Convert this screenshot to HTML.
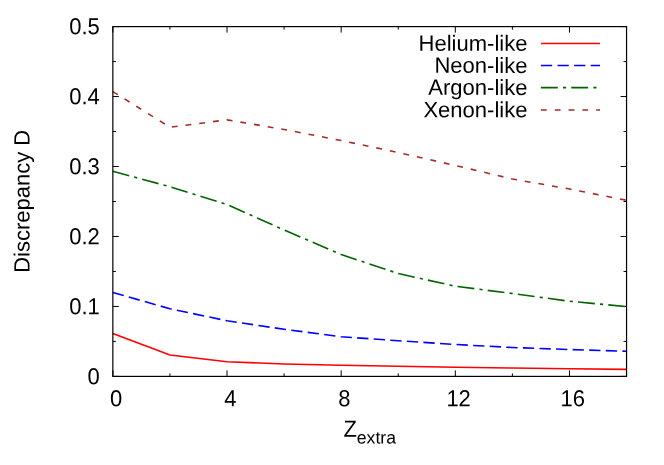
<!DOCTYPE html>
<html><head><meta charset="utf-8"><title>Discrepancy D vs Z extra</title>
<style>
html,body{margin:0;padding:0;background:#fff;}
body{width:664px;height:465px;overflow:hidden;}
svg{display:block;will-change:transform;}
text{font-family:"Liberation Sans",sans-serif;font-size:22px;fill:#000;}
</style></head><body>
<svg width="664" height="465" viewBox="0 0 664 465">
<rect x="0" y="0" width="664" height="465" fill="#ffffff"/>
<g stroke="#000" stroke-width="1.0" fill="none">
<path d="M112.85 376.4 V370.40 M112.85 26.6 V32.60"/>
<path d="M169.93 376.4 V373.40 M169.93 26.6 V29.60"/>
<path d="M227.01 376.4 V370.40 M227.01 26.6 V32.60"/>
<path d="M284.08 376.4 V373.40 M284.08 26.6 V29.60"/>
<path d="M341.16 376.4 V370.40 M341.16 26.6 V32.60"/>
<path d="M398.24 376.4 V373.40 M398.24 26.6 V29.60"/>
<path d="M455.32 376.4 V370.40 M455.32 26.6 V32.60"/>
<path d="M512.39 376.4 V373.40 M512.39 26.6 V29.60"/>
<path d="M569.47 376.4 V370.40 M569.47 26.6 V32.60"/>
<path d="M626.55 376.4 V373.40 M626.55 26.6 V29.60"/>
<path d="M112.85 376.40 H118.85 M626.55 376.40 H620.55"/>
<path d="M112.85 341.42 H115.85 M626.55 341.42 H623.55"/>
<path d="M112.85 306.44 H118.85 M626.55 306.44 H620.55"/>
<path d="M112.85 271.46 H115.85 M626.55 271.46 H623.55"/>
<path d="M112.85 236.48 H118.85 M626.55 236.48 H620.55"/>
<path d="M112.85 201.50 H115.85 M626.55 201.50 H623.55"/>
<path d="M112.85 166.52 H118.85 M626.55 166.52 H620.55"/>
<path d="M112.85 131.54 H115.85 M626.55 131.54 H623.55"/>
<path d="M112.85 96.56 H118.85 M626.55 96.56 H620.55"/>
<path d="M112.85 61.58 H115.85 M626.55 61.58 H623.55"/>
<path d="M112.85 26.60 H118.85 M626.55 26.60 H620.55"/>
</g>
<g fill="none" stroke-width="1.6" stroke-linejoin="round">
<polyline points="112.85,333.40 169.93,355.00 227.01,361.75 284.08,364.00 341.16,365.25 398.24,366.25 455.32,367.20 512.39,368.00 569.47,368.75 626.55,369.40" stroke="#ff0000"/>
<polyline points="112.85,292.50 169.93,308.75 227.01,320.75 284.08,329.25 341.16,336.75 398.24,340.75 455.32,344.50 512.39,347.50 569.47,349.50 626.55,351.25" stroke="#0000ff" stroke-dasharray="11.3 5.3"/>
<polyline points="112.85,171.25 169.93,186.75 227.01,204.50 284.08,230.00 341.16,254.50 398.24,273.50 455.32,286.25 512.39,293.50 569.47,301.25 626.55,306.60" stroke="#006400" stroke-dasharray="16.9 5.18 3.15 5.14"/>
<polyline points="112.85,91.60 169.93,127.20 227.01,119.85 284.08,129.50 341.16,140.50 398.24,152.50 455.32,165.50 512.39,179.00 569.47,189.00 626.55,200.30" stroke="#a52a2a" stroke-dasharray="5.85 7.986"/>
<path d="M540.9 43.45 H600.0" stroke="#ff0000"/>
<path d="M540.9 65.5 H600.0" stroke="#0000ff" stroke-dasharray="11.3 5.3"/>
<path d="M540.9 87.65 H600.0" stroke="#006400" stroke-dasharray="16.9 5.18 3.15 5.14"/>
<path d="M540.9 110.0 H600.0" stroke="#a52a2a" stroke-dasharray="5.85 7.986"/>
</g>
<rect x="112.85" y="26.6" width="513.70" height="349.80" fill="none" stroke="#000" stroke-width="1.2"/>
<g>
<text transform="translate(99.75 384.15) rotate(0.03) scale(1 1.055)" text-anchor="end">0</text>
<text transform="translate(99.75 314.19) rotate(0.03) scale(1 1.055)" text-anchor="end">0.1</text>
<text transform="translate(99.75 244.23) rotate(0.03) scale(1 1.055)" text-anchor="end">0.2</text>
<text transform="translate(99.75 174.27) rotate(0.03) scale(1 1.055)" text-anchor="end">0.3</text>
<text transform="translate(99.75 104.31) rotate(0.03) scale(1 1.055)" text-anchor="end">0.4</text>
<text transform="translate(99.75 34.35) rotate(0.03) scale(1 1.055)" text-anchor="end">0.5</text>
<text transform="translate(116.15 406.35) rotate(0.03) scale(1 1.055)" text-anchor="middle">0</text>
<text transform="translate(230.31 406.35) rotate(0.03) scale(1 1.055)" text-anchor="middle">4</text>
<text transform="translate(344.46 406.35) rotate(0.03) scale(1 1.055)" text-anchor="middle">8</text>
<text transform="translate(458.62 406.35) rotate(0.03) scale(1 1.055)" text-anchor="middle">12</text>
<text transform="translate(572.77 406.35) rotate(0.03) scale(1 1.055)" text-anchor="middle">16</text>
<text transform="translate(527.40 50.85) rotate(0.03) scale(1 1.0)" text-anchor="end">Helium-like</text>
<text transform="translate(527.40 72.90) rotate(0.03) scale(1 1.0)" text-anchor="end">Neon-like</text>
<text transform="translate(527.40 94.90) rotate(0.03) scale(1 1.0)" text-anchor="end">Argon-like</text>
<text transform="translate(527.40 117.20) rotate(0.03) scale(1 1.0)" text-anchor="end">Xenon-like</text>
<text transform="translate(29.5 272.8) rotate(-89.97) scale(1 1.0)">Discrepancy D</text>
<text transform="translate(343.40 436.80) rotate(0.03) scale(1 1.055)" text-anchor="start">Z</text>
<text transform="translate(356.84 443.50) rotate(0.03) scale(1 1.0)" text-anchor="start" style="font-size:17.6px">extra</text>
</g>
</svg></body></html>
